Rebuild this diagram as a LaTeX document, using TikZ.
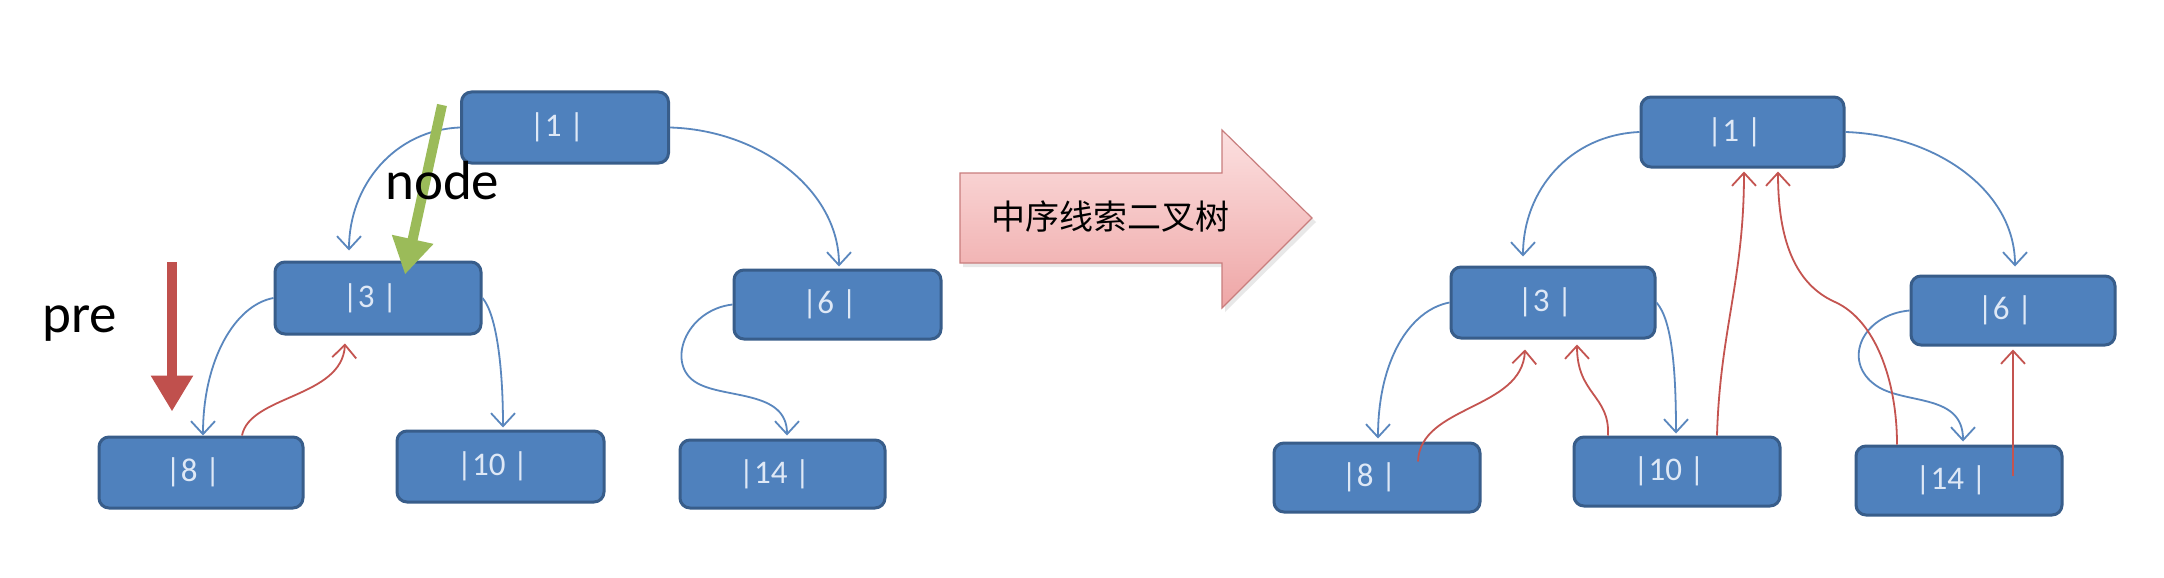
\documentclass[tikz,border=0pt]{standalone}
\usepackage{fontspec}
\setmainfont{Carlito}
\newfontfamily\cjk{Noto Sans CJK SC}
\usetikzlibrary{arrows.meta}
\definecolor{boxfill}{RGB}{79,129,189}
\definecolor{boxline}{RGB}{56,93,138}
\definecolor{boxtext}{RGB}{222,232,246}
\definecolor{bline}{RGB}{90,135,190}
\definecolor{rline}{RGB}{196,84,80}
\definecolor{garrow}{RGB}{155,187,89}
\definecolor{rarrow}{RGB}{192,80,77}
\definecolor{pinktop}{RGB}{252,224,224}
\definecolor{pinkbot}{RGB}{238,166,166}
\definecolor{pinkline}{RGB}{200,125,125}
\newcommand{\bt}[1]{\raisebox{-3pt}{#1}\kern16pt}
\begin{document}
\begin{tikzpicture}[x=1pt,y=-1pt,
  tbox/.style={draw=boxline,line width=3pt,fill=boxfill,rounded corners=10pt,
    minimum width=205pt,minimum height=70pt,inner sep=0pt,text=boxtext,
    font=\fontsize{33}{33}\selectfont},
  bconn/.style={draw=bline,line width=1.8pt,
    -{Straight Barb[length=13pt,width=24pt,line width=1.8pt]}},
  rconn/.style={draw=rline,line width=1.8pt,
    -{Straight Barb[length=13pt,width=24pt,line width=1.8pt]}},
  bigptr/.style={line width=10pt,-{Triangle[length=36pt,width=40pt]}},
  lbl/.style={font=\fontsize{55}{55}\selectfont,text=black,inner sep=0pt,anchor=base west}
]
\useasboundingbox (0,0) rectangle (2164,578);
\fill[white] (0,0) rectangle (2164,578);

% ---------- left tree ----------
\node[tbox,minimum width=207pt,minimum height=71pt] (L1) at (565,127.5) {\bt{|1 |}};
\node[tbox,minimum width=206pt,minimum height=72pt] (L3) at (378,298) {\bt{|3 |}};
\node[tbox,minimum width=207pt,minimum height=69pt] (L6) at (837.5,304.5) {\bt{|6 |}};
\node[tbox,minimum width=204pt,minimum height=71pt] (L8) at (201,472.5) {\bt{|8 |}};
\node[tbox,minimum width=207pt,minimum height=71pt] (L10) at (500.5,466.5) {\bt{|10 |}};
\node[tbox,minimum width=205pt,minimum height=68pt] (L14) at (782.5,474) {\bt{|14 |}};

\draw[bconn] (L1.west) .. controls (395,130) and (349,185) .. ([xshift=-29pt,yshift=10pt]L3.north);
\draw[bconn] (L3.west) .. controls (235,305) and (203,360) .. ([xshift=2pt]L8.north);
\draw[bconn] (L3.east) .. controls (497,315) and (503,370) .. ([xshift=2.5pt,yshift=2pt]L10.north);
\draw[bconn] (L1.east) .. controls (760,130) and (839,190) .. ([xshift=1.5pt,yshift=2pt]L6.north);
\draw[bconn] (L6.west) .. controls (685,310) and (665,365) .. (697,383)
   .. controls (725,399) and (787,390) .. ([xshift=4.5pt,yshift=3pt]L14.north);
\draw[rconn] ([xshift=41pt]L8.north) .. controls (250,395) and (342,398) .. ([xshift=-33pt,yshift=-8pt]L3.south);

% pointers
\coordinate (gstart) at (442,105);
\coordinate (rstart) at (172,262);
\draw[bigptr,draw=garrow,fill=garrow] (gstart) -- ([xshift=27pt,yshift=-14pt]L3.north);
\draw[bigptr,draw=rarrow,fill=rarrow] (rstart) -- ([xshift=-29pt,yshift=24pt]L8.north);
\node[lbl] (nodelbl) at (385,199) {node};
\node[lbl] (prelbl) at (42,332) {pre};

% ---------- big arrow ----------
\fill[black!25,opacity=0.35] (963,177) -- (1225,177) -- (1225,134) -- (1316,222) -- (1225,312) -- (1225,267) -- (963,267) -- cycle;
\path[draw=pinkline,line width=1.2pt,top color=pinktop,bottom color=pinkbot]
  (960,173) -- (1222,173) -- (1222,130) -- (1312,218) -- (1222,308) -- (1222,263) -- (960,263) -- cycle;
\node[font=\cjk\fontsize{34}{34}\selectfont,text=black,inner sep=0pt,anchor=west] (title) at (991,217) {中序线索二叉树};

% ---------- right tree ----------
\node[tbox,minimum width=203pt,minimum height=70pt] (R1) at (1742.5,132) {\bt{|1 |}};
\node[tbox,minimum width=204pt,minimum height=71pt] (R3) at (1553,302.5) {\bt{|3 |}};
\node[tbox,minimum width=204pt,minimum height=69pt] (R6) at (2013,310.5) {\bt{|6 |}};
\node[tbox,minimum width=206pt,minimum height=69pt] (R8) at (1377,477.5) {\bt{|8 |}};
\node[tbox,minimum width=206pt,minimum height=69pt] (R10) at (1677,471.5) {\bt{|10 |}};
\node[tbox,minimum width=206pt,minimum height=69pt] (R14) at (1959,480.5) {\bt{|14 |}};

\draw[bconn] (R1.west) .. controls (1570,135) and (1523,190) .. ([xshift=-30pt,yshift=9pt]R3.north);
\draw[bconn] (R1.east) .. controls (1935,135) and (2015,190) .. ([xshift=2pt,yshift=8pt]R6.north);
\draw[bconn] (R3.west) .. controls (1410,310) and (1378,360) .. ([xshift=1pt,yshift=3pt]R8.north);
\draw[bconn] (R3.east) .. controls (1672,320) and (1676,370) .. ([xshift=-1pt,yshift=2pt]R10.north);
\draw[bconn] (R6.west) .. controls (1860,315) and (1840,365) .. (1880,388)
   .. controls (1910,404) and (1963,395) .. ([xshift=4pt,yshift=3pt]R14.north);

\draw[rconn] ([xshift=41pt,yshift=-20pt]R8.north) .. controls (1420,405) and (1522,410) .. ([xshift=-28pt,yshift=-10pt]R3.south);
\draw[rconn] ([xshift=-69pt]R10.north) .. controls (1610,395) and (1577,395) .. ([xshift=24pt,yshift=-5pt]R3.south);
\draw[rconn] ([xshift=40pt]R10.north) .. controls (1720,330) and (1744,280) .. ([xshift=1.5pt,yshift=-3pt]R1.south);
\draw[rconn] ([xshift=-62pt]R14.north) .. controls (1897,380) and (1875,320) .. (1835,302)
   .. controls (1790,282) and (1778,230) .. ([xshift=35.5pt,yshift=-3pt]R1.south);
\draw[rconn] ([xshift=54pt,yshift=5pt]R14.center) -- ([yshift=-3pt]R6.south);
\end{tikzpicture}
\end{document}
